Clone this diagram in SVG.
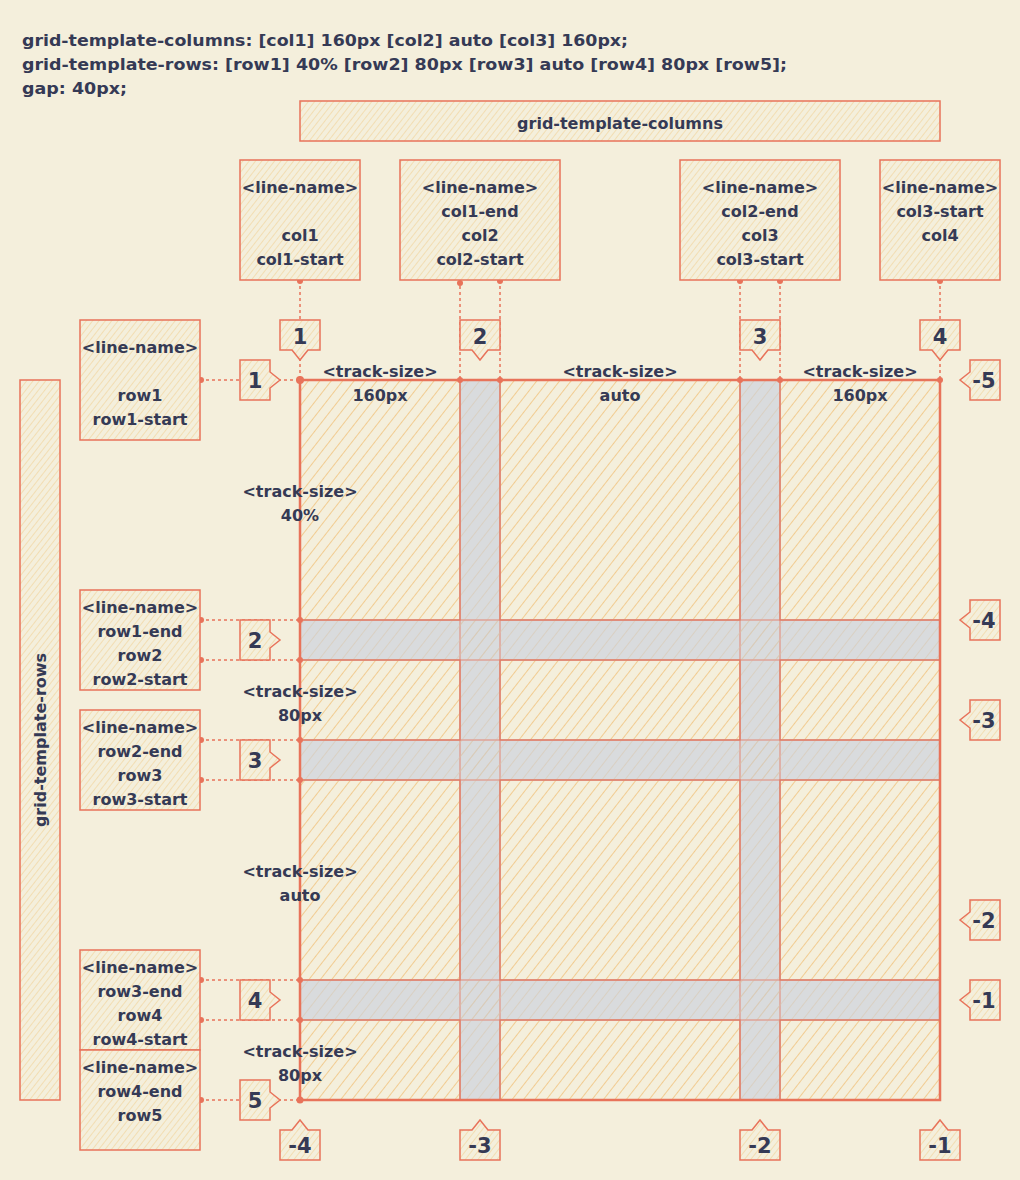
<svg xmlns="http://www.w3.org/2000/svg" width="1020" height="1180" viewBox="0 0 1020 1180">
  <defs>
    <pattern id="hGrid" patternUnits="userSpaceOnUse" width="9" height="9" patternTransform="rotate(38)">
      <line x1="0" y1="0" x2="0" y2="9" stroke="#f0c078" stroke-width="1.5"/>
    </pattern>
    <pattern id="hBox" patternUnits="userSpaceOnUse" width="5" height="5" patternTransform="rotate(38)">
      <line x1="0" y1="0" x2="0" y2="5" stroke="#f2d49c" stroke-width="1.3"/>
    </pattern>
    <pattern id="hGap" patternUnits="userSpaceOnUse" width="9" height="9" patternTransform="rotate(38)">
      <line x1="0" y1="0" x2="0" y2="9" stroke="#d8c6ad" stroke-width="1.1"/>
    </pattern>
    <style>
      .t{font-family:"DejaVu Sans","Liberation Sans",sans-serif;font-weight:bold;font-size:16px;fill:#353a55;text-anchor:middle}
      .code{font-family:"DejaVu Sans","Liberation Sans",sans-serif;font-weight:bold;font-size:16.5px;fill:#353a55}
      .num{font-family:"DejaVu Sans","Liberation Sans",sans-serif;font-weight:bold;font-size:21px;fill:#353a55;text-anchor:middle}
      .box{fill:#f4efdc;stroke:none}
      .boxh{fill:url(#hBox);stroke:#e8735a;stroke-width:1.5}
      .cell{fill:none;stroke:#e07a62;stroke-width:1.3}
      .gap{fill:#d9dbdd}
      .gaph{fill:url(#hGap);stroke:#dfa396;stroke-width:1.5}
      .conn{fill:none;stroke:#e8735a;stroke-width:1.5;stroke-dasharray:3 3}
      .dot{fill:#e8735a}
    </style>
  </defs>
  <rect x="0" y="0" width="1020" height="1180" fill="#f4efdc"/>

  <g id="code">
    <text class="code" x="22" y="46" textLength="606" lengthAdjust="spacingAndGlyphs">grid-template-columns: [col1] 160px [col2] auto [col3] 160px;</text>
    <text class="code" x="22" y="70" textLength="765" lengthAdjust="spacingAndGlyphs">grid-template-rows: [row1] 40% [row2] 80px [row3] auto [row4] 80px [row5];</text>
    <text class="code" x="22" y="94" textLength="105" lengthAdjust="spacingAndGlyphs">gap: 40px;</text>
  </g>

  <g id="banner-columns">
    <rect x="300" y="101" width="640" height="40" class="boxh"/>
    <text class="t" x="620" y="129">grid-template-columns</text>
  </g>
  <g id="banner-rows">
    <rect x="20" y="380" width="40" height="720" class="boxh"/>
    <text class="t" x="0" y="0" transform="translate(46 740) rotate(-90)">grid-template-rows</text>
  </g>

  <g id="grid">
    <rect x="300" y="380" width="640" height="720" fill="url(#hGrid)"/>
    <g id="gaps">
      <rect x="460" y="380" width="40" height="720" class="gap"/>
      <rect x="740" y="380" width="40" height="720" class="gap"/>
      <rect x="300" y="620" width="640" height="40" class="gap"/>
      <rect x="300" y="740" width="640" height="40" class="gap"/>
      <rect x="300" y="980" width="640" height="40" class="gap"/>
      <rect x="460" y="380" width="40" height="720" class="gaph"/>
      <rect x="740" y="380" width="40" height="720" class="gaph"/>
      <rect x="300" y="620" width="640" height="40" class="gaph"/>
      <rect x="300" y="740" width="640" height="40" class="gaph"/>
      <rect x="300" y="980" width="640" height="40" class="gaph"/>
    </g>
    <g id="cells">
      <rect x="300" y="380" width="160" height="240" class="cell"/>
      <rect x="500" y="380" width="240" height="240" class="cell"/>
      <rect x="780" y="380" width="160" height="240" class="cell"/>
      <rect x="300" y="660" width="160" height="80" class="cell"/>
      <rect x="500" y="660" width="240" height="80" class="cell"/>
      <rect x="780" y="660" width="160" height="80" class="cell"/>
      <rect x="300" y="780" width="160" height="200" class="cell"/>
      <rect x="500" y="780" width="240" height="200" class="cell"/>
      <rect x="780" y="780" width="160" height="200" class="cell"/>
      <rect x="300" y="1020" width="160" height="80" class="cell"/>
      <rect x="500" y="1020" width="240" height="80" class="cell"/>
      <rect x="780" y="1020" width="160" height="80" class="cell"/>
    </g>
    <rect x="300" y="380" width="640" height="720" fill="none" stroke="#e8735a" stroke-width="2.5"/>
  </g>

  <g id="track-labels">
    <text class="t" x="380" y="377">&lt;track-size&gt;</text>
    <text class="t" x="380" y="401">160px</text>
    <text class="t" x="620" y="377">&lt;track-size&gt;</text>
    <text class="t" x="620" y="401">auto</text>
    <text class="t" x="860" y="377">&lt;track-size&gt;</text>
    <text class="t" x="860" y="401">160px</text>
    <text class="t" x="300" y="497">&lt;track-size&gt;</text>
    <text class="t" x="300" y="521">40%</text>
    <text class="t" x="300" y="697">&lt;track-size&gt;</text>
    <text class="t" x="300" y="721">80px</text>
    <text class="t" x="300" y="877">&lt;track-size&gt;</text>
    <text class="t" x="300" y="901">auto</text>
    <text class="t" x="300" y="1057">&lt;track-size&gt;</text>
    <text class="t" x="300" y="1081">80px</text>
  </g>

  <g id="connectors">
    <line class="conn" x1="300" y1="280" x2="300" y2="380"/>
    <line class="conn" x1="460" y1="280" x2="460" y2="380"/>
    <line class="conn" x1="500" y1="280" x2="500" y2="380"/>
    <line class="conn" x1="740" y1="280" x2="740" y2="380"/>
    <line class="conn" x1="780" y1="280" x2="780" y2="380"/>
    <line class="conn" x1="940" y1="280" x2="940" y2="380"/>
    <line class="conn" x1="200" y1="380" x2="300" y2="380"/>
    <line class="conn" x1="200" y1="620" x2="300" y2="620"/>
    <line class="conn" x1="200" y1="660" x2="300" y2="660"/>
    <line class="conn" x1="200" y1="740" x2="300" y2="740"/>
    <line class="conn" x1="200" y1="780" x2="300" y2="780"/>
    <line class="conn" x1="200" y1="980" x2="300" y2="980"/>
    <line class="conn" x1="200" y1="1020" x2="300" y2="1020"/>
    <line class="conn" x1="200" y1="1100" x2="300" y2="1100"/>
    <g class="dot">
      <circle cx="300" cy="281" r="3"/><circle cx="300" cy="380" r="4"/>
      <circle cx="460" cy="283" r="3"/><circle cx="460" cy="380" r="3"/>
      <circle cx="500" cy="281" r="3"/><circle cx="500" cy="380" r="3"/>
      <circle cx="740" cy="281" r="3"/><circle cx="740" cy="380" r="3"/>
      <circle cx="780" cy="281" r="3"/><circle cx="780" cy="380" r="3"/>
      <circle cx="940" cy="281" r="3"/><circle cx="940" cy="380" r="3"/>
      <circle cx="201" cy="380" r="3"/>
      <circle cx="201" cy="620" r="3"/><circle cx="300" cy="620" r="3"/>
      <circle cx="201" cy="660" r="3"/><circle cx="300" cy="660" r="3"/>
      <circle cx="201" cy="740" r="3"/><circle cx="300" cy="740" r="3"/>
      <circle cx="201" cy="780" r="3"/><circle cx="300" cy="780" r="3"/>
      <circle cx="201" cy="980" r="3"/><circle cx="300" cy="980" r="3"/>
      <circle cx="201" cy="1020" r="3"/><circle cx="300" cy="1020" r="3"/>
      <circle cx="201" cy="1100" r="3"/><circle cx="300" cy="1100" r="3.5"/>
    </g>
  </g>

  <g id="col-name-1">
    <rect x="240" y="160" width="120" height="120" class="box"/>
    <rect x="240" y="160" width="120" height="120" class="boxh"/>
    <text class="t" x="300" y="193">&lt;line-name&gt;</text>
    <text class="t" x="300" y="241">col1</text>
    <text class="t" x="300" y="265">col1-start</text>
  </g>
  <g id="col-name-2">
    <rect x="400" y="160" width="160" height="120" class="box"/>
    <rect x="400" y="160" width="160" height="120" class="boxh"/>
    <text class="t" x="480" y="193">&lt;line-name&gt;</text>
    <text class="t" x="480" y="217">col1-end</text>
    <text class="t" x="480" y="241">col2</text>
    <text class="t" x="480" y="265">col2-start</text>
  </g>
  <g id="col-name-3">
    <rect x="680" y="160" width="160" height="120" class="box"/>
    <rect x="680" y="160" width="160" height="120" class="boxh"/>
    <text class="t" x="760" y="193">&lt;line-name&gt;</text>
    <text class="t" x="760" y="217">col2-end</text>
    <text class="t" x="760" y="241">col3</text>
    <text class="t" x="760" y="265">col3-start</text>
  </g>
  <g id="col-name-4">
    <rect x="880" y="160" width="120" height="120" class="box"/>
    <rect x="880" y="160" width="120" height="120" class="boxh"/>
    <text class="t" x="940" y="193">&lt;line-name&gt;</text>
    <text class="t" x="940" y="217">col3-start</text>
    <text class="t" x="940" y="241">col4</text>
  </g>

  <g id="row-name-1">
    <rect x="80" y="320" width="120" height="120" class="box"/>
    <rect x="80" y="320" width="120" height="120" class="boxh"/>
    <text class="t" x="140" y="353">&lt;line-name&gt;</text>
    <text class="t" x="140" y="401">row1</text>
    <text class="t" x="140" y="425">row1-start</text>
  </g>
  <g id="row-name-2">
    <rect x="80" y="590" width="120" height="100" class="box"/>
    <rect x="80" y="590" width="120" height="100" class="boxh"/>
    <text class="t" x="140" y="613">&lt;line-name&gt;</text>
    <text class="t" x="140" y="637">row1-end</text>
    <text class="t" x="140" y="661">row2</text>
    <text class="t" x="140" y="685">row2-start</text>
  </g>
  <g id="row-name-3">
    <rect x="80" y="710" width="120" height="100" class="box"/>
    <rect x="80" y="710" width="120" height="100" class="boxh"/>
    <text class="t" x="140" y="733">&lt;line-name&gt;</text>
    <text class="t" x="140" y="757">row2-end</text>
    <text class="t" x="140" y="781">row3</text>
    <text class="t" x="140" y="805">row3-start</text>
  </g>
  <g id="row-name-4">
    <rect x="80" y="950" width="120" height="100" class="box"/>
    <rect x="80" y="950" width="120" height="100" class="boxh"/>
    <text class="t" x="140" y="973">&lt;line-name&gt;</text>
    <text class="t" x="140" y="997">row3-end</text>
    <text class="t" x="140" y="1021">row4</text>
    <text class="t" x="140" y="1045">row4-start</text>
  </g>
  <g id="row-name-5">
    <rect x="80" y="1050" width="120" height="100" class="box"/>
    <rect x="80" y="1050" width="120" height="100" class="boxh"/>
    <text class="t" x="140" y="1073">&lt;line-name&gt;</text>
    <text class="t" x="140" y="1097">row4-end</text>
    <text class="t" x="140" y="1121">row5</text>
  </g>

  <g id="col-markers">
    <g id="cm1"><polygon class="box" points="280,320 320,320 320,350 308,350 300,360 292,350 280,350"/><polygon class="boxh" points="280,320 320,320 320,350 308,350 300,360 292,350 280,350"/><text class="num" x="300" y="344">1</text></g>
    <g id="cm2"><polygon class="box" points="460,320 500,320 500,350 488,350 480,360 472,350 460,350"/><polygon class="boxh" points="460,320 500,320 500,350 488,350 480,360 472,350 460,350"/><text class="num" x="480" y="344">2</text></g>
    <g id="cm3"><polygon class="box" points="740,320 780,320 780,350 768,350 760,360 752,350 740,350"/><polygon class="boxh" points="740,320 780,320 780,350 768,350 760,360 752,350 740,350"/><text class="num" x="760" y="344">3</text></g>
    <g id="cm4"><polygon class="box" points="920,320 960,320 960,350 948,350 940,360 932,350 920,350"/><polygon class="boxh" points="920,320 960,320 960,350 948,350 940,360 932,350 920,350"/><text class="num" x="940" y="344">4</text></g>
  </g>

  <g id="row-markers">
    <g id="rm1"><polygon class="box" points="240,360 270,360 270,372 280,380 270,388 270,400 240,400"/><polygon class="boxh" points="240,360 270,360 270,372 280,380 270,388 270,400 240,400"/><text class="num" x="255" y="388">1</text></g>
    <g id="rm2"><polygon class="box" points="240,620 270,620 270,632 280,640 270,648 270,660 240,660"/><polygon class="boxh" points="240,620 270,620 270,632 280,640 270,648 270,660 240,660"/><text class="num" x="255" y="648">2</text></g>
    <g id="rm3"><polygon class="box" points="240,740 270,740 270,752 280,760 270,768 270,780 240,780"/><polygon class="boxh" points="240,740 270,740 270,752 280,760 270,768 270,780 240,780"/><text class="num" x="255" y="768">3</text></g>
    <g id="rm4"><polygon class="box" points="240,980 270,980 270,992 280,1000 270,1008 270,1020 240,1020"/><polygon class="boxh" points="240,980 270,980 270,992 280,1000 270,1008 270,1020 240,1020"/><text class="num" x="255" y="1008">4</text></g>
    <g id="rm5"><polygon class="box" points="240,1080 270,1080 270,1092 280,1100 270,1108 270,1120 240,1120"/><polygon class="boxh" points="240,1080 270,1080 270,1092 280,1100 270,1108 270,1120 240,1120"/><text class="num" x="255" y="1108">5</text></g>
  </g>

  <g id="neg-row-markers">
    <g id="nr5"><polygon class="box" points="970,360 1000,360 1000,400 970,400 970,388 960,380 970,372"/><polygon class="boxh" points="970,360 1000,360 1000,400 970,400 970,388 960,380 970,372"/><text class="num" x="984" y="388">-5</text></g>
    <g id="nr4"><polygon class="box" points="970,600 1000,600 1000,640 970,640 970,628 960,620 970,612"/><polygon class="boxh" points="970,600 1000,600 1000,640 970,640 970,628 960,620 970,612"/><text class="num" x="984" y="628">-4</text></g>
    <g id="nr3"><polygon class="box" points="970,700 1000,700 1000,740 970,740 970,728 960,720 970,712"/><polygon class="boxh" points="970,700 1000,700 1000,740 970,740 970,728 960,720 970,712"/><text class="num" x="984" y="728">-3</text></g>
    <g id="nr2"><polygon class="box" points="970,900 1000,900 1000,940 970,940 970,928 960,920 970,912"/><polygon class="boxh" points="970,900 1000,900 1000,940 970,940 970,928 960,920 970,912"/><text class="num" x="984" y="928">-2</text></g>
    <g id="nr1"><polygon class="box" points="970,980 1000,980 1000,1020 970,1020 970,1008 960,1000 970,992"/><polygon class="boxh" points="970,980 1000,980 1000,1020 970,1020 970,1008 960,1000 970,992"/><text class="num" x="984" y="1008">-1</text></g>
  </g>

  <g id="neg-col-markers">
    <g id="nc4"><polygon class="box" points="280,1130 292,1130 300,1120 308,1130 320,1130 320,1160 280,1160"/><polygon class="boxh" points="280,1130 292,1130 300,1120 308,1130 320,1130 320,1160 280,1160"/><text class="num" x="300" y="1153">-4</text></g>
    <g id="nc3"><polygon class="box" points="460,1130 472,1130 480,1120 488,1130 500,1130 500,1160 460,1160"/><polygon class="boxh" points="460,1130 472,1130 480,1120 488,1130 500,1130 500,1160 460,1160"/><text class="num" x="480" y="1153">-3</text></g>
    <g id="nc2"><polygon class="box" points="740,1130 752,1130 760,1120 768,1130 780,1130 780,1160 740,1160"/><polygon class="boxh" points="740,1130 752,1130 760,1120 768,1130 780,1130 780,1160 740,1160"/><text class="num" x="760" y="1153">-2</text></g>
    <g id="nc1"><polygon class="box" points="920,1130 932,1130 940,1120 948,1130 960,1130 960,1160 920,1160"/><polygon class="boxh" points="920,1130 932,1130 940,1120 948,1130 960,1130 960,1160 920,1160"/><text class="num" x="940" y="1153">-1</text></g>
  </g>
</svg>
